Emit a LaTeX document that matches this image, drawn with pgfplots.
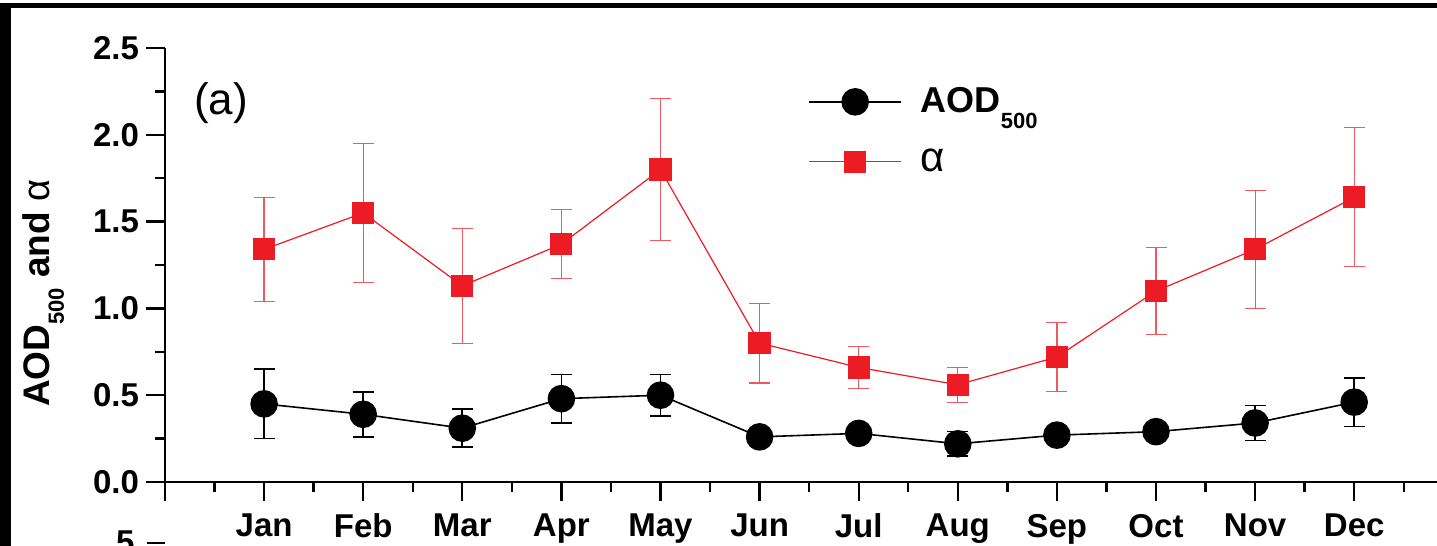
\documentclass[border=0pt]{standalone}
\usepackage{pgfplots}
\pgfplotsset{compat=1.18}
\usepackage{pgfplotstable}
\usepackage{fontspec}
\setmainfont{Liberation Sans}
\definecolor{myred}{RGB}{237,28,36}
\definecolor{errred}{RGB}{236,90,96}
\newcommand{\lowsub}[2]{\raisebox{-#2}{\fontsize{#1}{#1}\selectfont 500}}

\pgfplotstableread{
m v e
1 0.45 0.20
2 0.39 0.13
3 0.31 0.11
4 0.48 0.14
5 0.50 0.12
6 0.26 0.03
7 0.28 0.03
8 0.22 0.07
9 0.27 0.03
10 0.29 0.03
11 0.34 0.10
12 0.46 0.14
}\aod

\pgfplotstableread{
m v e
1 1.34 0.30
2 1.55 0.40
3 1.13 0.33
4 1.37 0.20
5 1.80 0.41
6 0.80 0.23
7 0.66 0.12
8 0.56 0.10
9 0.72 0.20
10 1.10 0.25
11 1.34 0.34
12 1.64 0.40
}\alpha

\begin{document}
\begin{tikzpicture}
\useasboundingbox (-82.5pt,-32pt) rectangle (636pt,241pt);
\fill[white] (-82.5pt,-32pt) rectangle (636pt,241pt);
\begin{axis}[
  at={(0pt,0pt)}, anchor=south west,
  scale only axis, width=644.15pt, height=217pt,
  xmin=0, xmax=13, ymin=0, ymax=2.5,
  axis x line*=bottom, axis y line*=left,
  axis line style={line width=1.3pt},
  tick align=outside,
  major tick length=9.5pt, minor tick length=5pt,
  every tick/.style={black, line width=1.2pt},
  xtick={0,1,2,3,4,5,6,7,8,9,10,11,12,13},
  xticklabels={,Jan,Feb,Mar,Apr,May,Jun,Jul,Aug,Sep,Oct,Nov,Dec,},
  minor x tick num=1,
  ytick={0,0.5,1,1.5,2,2.5},
  minor y tick num=1,
  tick label style={font=\bfseries\fontsize{16.5}{18}\selectfont},
  xticklabel style={yshift=-3pt},
  /pgf/number format/.cd, fixed, fixed zerofill, precision=1, assume math mode=true,
  /pgfplots/.cd,
  ylabel={\bfseries AOD\lowsub{11}{7pt} and {\mdseries\fontsize{19}{20}\selectfont α}},
  ylabel style={font=\fontsize{18.5}{20}\selectfont, at={(axis description cs:-0.0943,0.435)}, anchor=center, rotate=0},
  legend style={draw=none, fill=none, inner sep=0pt, at={(axis description cs:0.4991,0.9185)}, anchor=north west,
    font=\fontsize{18}{20}\selectfont, row sep=12.5pt, column sep=7.5pt},
  legend cell align=left,
  legend image code/.code={\draw[mark repeat=2,mark phase=2,#1] plot coordinates {(0pt,0pt)(23pt,0pt)(46pt,0pt)};},
]
\addplot[black, line width=0.8pt, mark=*, mark size=6.5pt, mark options={solid, fill=black},
  error bars/.cd, y dir=both, y explicit,
  error bar style={line width=0.8pt, black},
  error mark options={rotate=90, mark size=5.25pt, line width=0.8pt, black}]
  table[x=m, y=v, y error=e] {\aod};
\addlegendentry{\bfseries AOD\lowsub{11}{8pt}}
\addplot[myred, line width=0.6pt, mark=square*, mark size=5.25pt, mark options={solid, fill=myred},
  error bars/.cd, y dir=both, y explicit,
  error bar style={line width=0.6pt, errred},
  error mark options={rotate=90, mark size=5.25pt, line width=0.6pt, errred}]
  table[x=m, y=v, y error=e] {\alpha};
\addlegendentry{{\fontsize{21}{21}\selectfont α}}
\node[anchor=west, inner sep=0pt, font=\fontsize{22}{22}\selectfont] at (axis cs:0.29,2.18) {(a)};
\end{axis}
\fill[black] (-82.5pt,237pt) rectangle (636pt,239.5pt);
\fill[black] (-82.5pt,-32pt) rectangle (-77pt,239.5pt);
\node[anchor=north east, inner sep=0pt, font=\bfseries\fontsize{16.5}{16.5}\selectfont] at (-15pt,-24pt) {5};
\draw[line width=1.2pt] (-9pt,-30.5pt) -- (0pt,-30.5pt);
\end{tikzpicture}
\end{document}
